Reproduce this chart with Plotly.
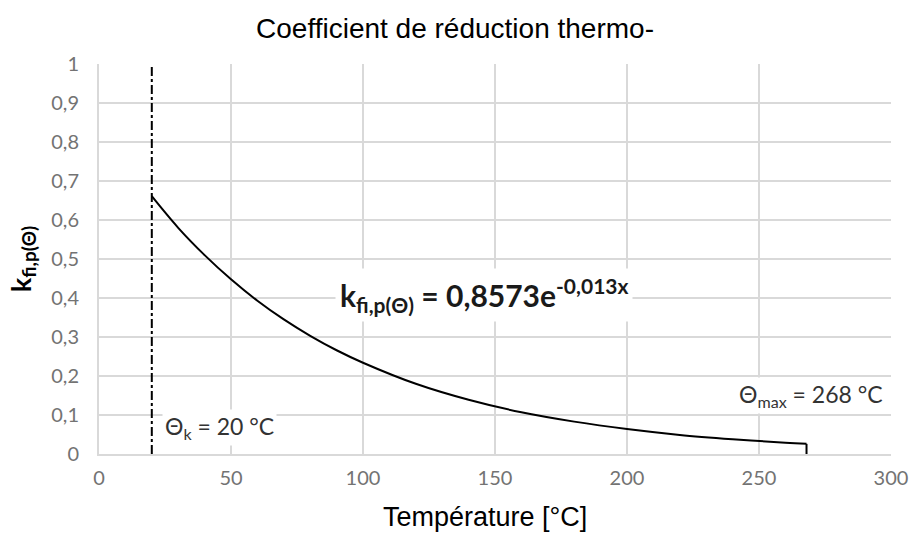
import plotly.graph_objects as go

# values (temperature in °C -> reduction coefficient)
TEMPS = [20, 30, 40, 50, 60, 70, 80, 90, 100, 120, 140, 160, 180, 200, 220, 240, 260, 268]
K_VALUES = [0.661, 0.580, 0.510, 0.448, 0.393, 0.345, 0.303, 0.266, 0.234, 0.180, 0.139,
            0.107, 0.083, 0.064, 0.049, 0.038, 0.029, 0.026]

THETA_K = 20
THETA_MAX = 268

X_TICKS = [0, 50, 100, 150, 200, 250, 300]
Y_TICKS = [0, 0.1, 0.2, 0.3, 0.4, 0.5, 0.6, 0.7, 0.8, 0.9, 1]

GRID = "#d9d9d9"
TICK_COLOR = "#737373"
TEXT_FONT = "Liberation Sans, Arial, sans-serif"
LABEL_FONT = "Lato, Open Sans, sans-serif"

fig = go.Figure()

# vertical dash-dot marker at theta_k
fig.add_trace(go.Scatter(
    x=[THETA_K, THETA_K], y=[0, 1],
    mode="lines",
    line=dict(color="black", width=2, dash="dashdot"),
    showlegend=False, hoverinfo="skip",
))

# reduction curve
fig.add_trace(go.Scatter(
    x=TEMPS, y=K_VALUES,
    mode="lines",
    line=dict(color="black", width=2, shape="spline", smoothing=1),
    showlegend=False,
))

# drop to zero at theta_max
fig.add_trace(go.Scatter(
    x=[THETA_MAX, THETA_MAX], y=[K_VALUES[-1], 0],
    mode="lines",
    line=dict(color="black", width=2),
    showlegend=False, hoverinfo="skip",
))

fig.add_annotation(
    x=146, y=0.408, xref="x", yref="y",
    text="<b>k<sub>fi,p(Θ)</sub> = 0,8573e<sup>-0,013x</sup></b>",
    showarrow=False, bgcolor="white", borderpad=4,
    font=dict(family=LABEL_FONT, size=30, color="#1a1a1a"),
)
fig.add_annotation(
    x=24, y=0.067, xref="x", yref="y", xanchor="left",
    text="Θ<sub>k</sub> = 20 °C",
    showarrow=False, bgcolor="white", borderpad=2,
    font=dict(family=LABEL_FONT, size=23, color="#333333"),
)
fig.add_annotation(
    x=298, y=0.151, xref="x", yref="y", xanchor="right",
    text="Θ<sub>max</sub> = 268 °C",
    showarrow=False, bgcolor="white", borderpad=2,
    font=dict(family=LABEL_FONT, size=23, color="#333333"),
)
# x axis title, sits slightly left of the plot centre in the reference
fig.add_annotation(
    x=0.487, y=0, xref="paper", yref="paper", yshift=-63,
    xanchor="center", yanchor="middle",
    text="Température [°C]", showarrow=False,
    font=dict(family=TEXT_FONT, size=27, color="black"),
)

fig.update_layout(
    width=911, height=542,
    paper_bgcolor="white", plot_bgcolor="white",
    separators=", ",
    margin=dict(l=99, r=20, t=64, b=88),
    title=dict(
        text="Coefficient de réduction thermo-",
        x=455 / 911, xanchor="center", xref="container",
        y=1 - 28 / 542, yanchor="middle", yref="container",
        pad=dict(l=0, r=0, t=0, b=0),
        font=dict(family=TEXT_FONT, size=28, color="black"),
    ),
)

fig.update_xaxes(
    range=[0, 300], tickvals=X_TICKS, automargin=False,
    showgrid=True, gridcolor=GRID, gridwidth=1.5,
    zeroline=False, showline=True, linecolor=GRID, linewidth=2,
    ticks="", ticklabelstandoff=5,
    tickfont=dict(family=LABEL_FONT, size=20, color=TICK_COLOR),
)
fig.update_yaxes(
    range=[0, 1], tickvals=Y_TICKS, automargin=False,
    showgrid=True, gridcolor=GRID, gridwidth=1.5,
    zeroline=False, showline=True, linecolor=GRID, linewidth=2,
    ticks="", ticklabelstandoff=14,
    tickfont=dict(family=LABEL_FONT, size=20, color=TICK_COLOR),
    title=dict(text="<b>k<sub>fi,p(Θ)</sub></b>", standoff=12,
               font=dict(family=LABEL_FONT, size=27, color="black")),
)

# drop the default 8px page margin so the figure sits at the window corner
fig.write_html(
    "out.html",
    config={"displayModeBar": False},
    post_script="document.body.style.margin='0px';",
)
